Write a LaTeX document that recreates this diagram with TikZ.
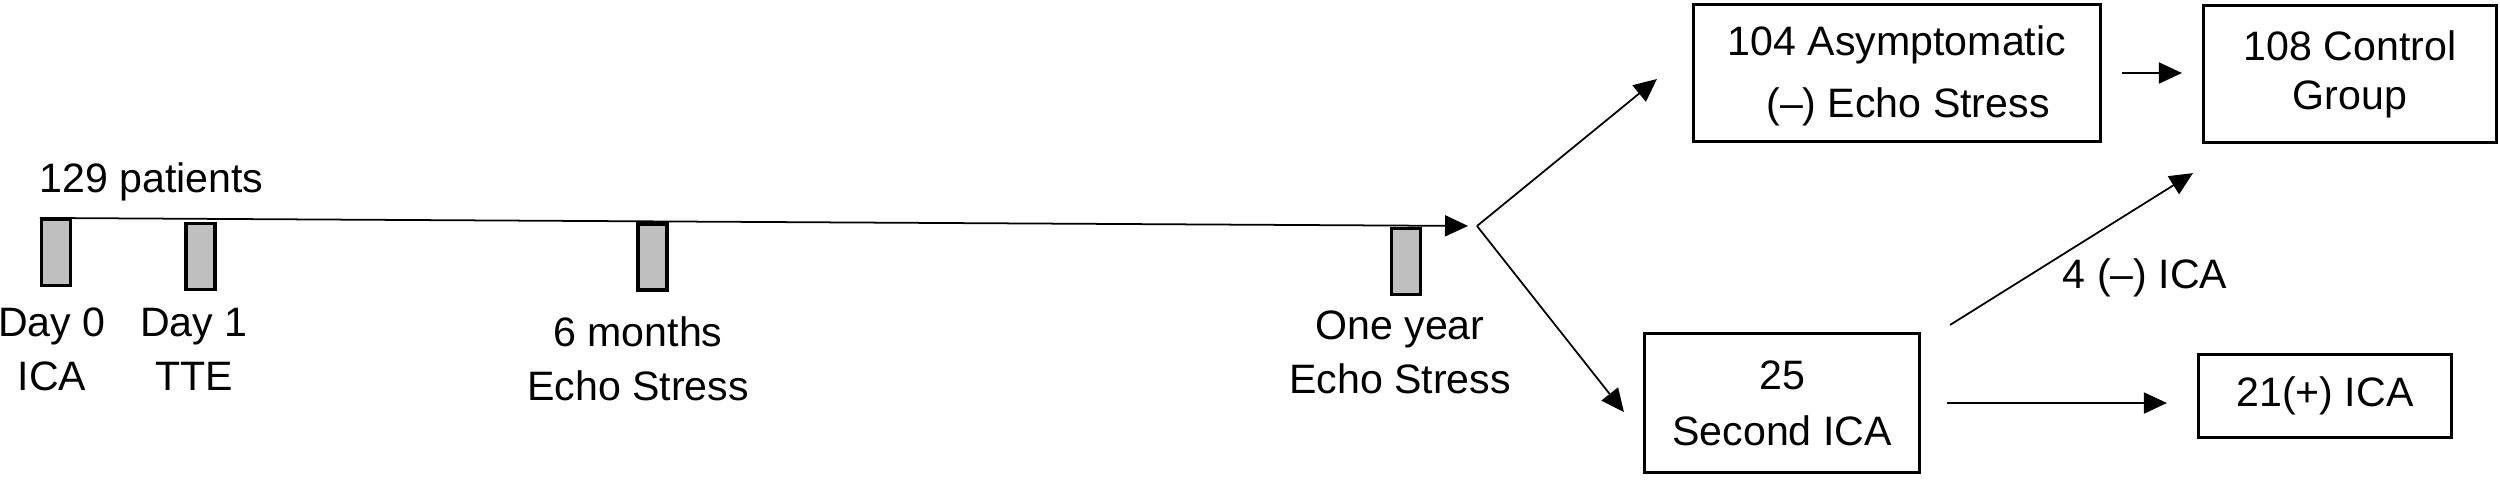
\documentclass[tikz,border=0pt]{standalone}
\usepackage{fontspec}
\setmainfont{Liberation Sans}
\usetikzlibrary{arrows.meta}

\begin{document}
\begin{tikzpicture}[
    font=\fontsize{11.7pt}{15.3pt}\selectfont,
    tickbox/.style={draw, line width=0.9pt, fill=gray!50, minimum width=0.29cm, minimum height=0.66cm, inner sep=0pt},
    box/.style={draw, line width=0.9pt, align=center, inner sep=0pt},
    lbl/.style={align=center, inner sep=0pt},
    arr/.style={-{Triangle[length=0.23cm,width=0.21cm]}, line width=0.5pt}]
    \useasboundingbox (0,0) rectangle (25,-4.84);

    \node[tickbox] (d0) at (0.56,-2.525) {};
    \node[tickbox] (d1) at (2.005,-2.565) {};
    \node[tickbox] (m6) at (6.525,-2.57) {};
    \node[tickbox] (y1) at (14.06,-2.615) {};
    \coordinate (split) at (14.77,-2.26);

    \draw[arr, shorten >=0.09cm] (d0.north west) -- (split);

    \node[lbl] (pat) at (1.515,-1.82) {129 patients};
    \node[lbl] (l0) at (0.52,-3.49) {Day 0\\ICA};
    \node[lbl] (l1) at (1.94,-3.49) {Day 1\\TTE};
    \node[lbl] (l6) at (6.38,-3.59) {6 months\\Echo Stress};
    \node[lbl] (ly) at (14.0,-3.525) {One year\\Echo Stress};

    \node[box, minimum width=4.07cm, minimum height=1.37cm, font=\fontsize{11.7pt}{17.6pt}\selectfont] (asym) at (18.97,-0.73)
        {\rule{0pt}{0.36cm}104 Asymptomatic\\\hspace*{0.22cm}(–) Echo Stress};
    \node[box, minimum width=2.93cm, minimum height=1.37cm, font=\fontsize{11.7pt}{14pt}\selectfont] (ctrl) at (23.5,-0.74)
        {108 Control\\Group};
    \node[box, minimum width=2.75cm, minimum height=1.39cm, font=\fontsize{11.7pt}{15.9pt}\selectfont] (sec) at (17.82,-4.03)
        {25\\Second ICA};
    \node[box, minimum width=2.53cm, minimum height=0.83cm] (pos) at (23.25,-3.96) {21(+) ICA};

    \draw[arr] (split) -- ([shift={(-0.35,-0.06)}]asym.west);
    \draw[arr] (split) -- ([shift={(-0.19,-0.09)}]sec.west);
    \draw[arr, shorten <=0.2cm, shorten >=0.2cm] (asym.east) -- (asym.east -| ctrl.west);
    \draw[arr, shorten <=0.26cm, shorten >=0.3cm] (sec.east) -- (sec.east -| pos.west);
    \draw[arr] ([shift={(0.29,0.07)}]sec.north east) -- ([shift={(-0.09,-0.29)}]ctrl.south west);

    \node[lbl] (neg) at (21.45,-2.775) {4 (–) ICA};
\end{tikzpicture}
\end{document}
